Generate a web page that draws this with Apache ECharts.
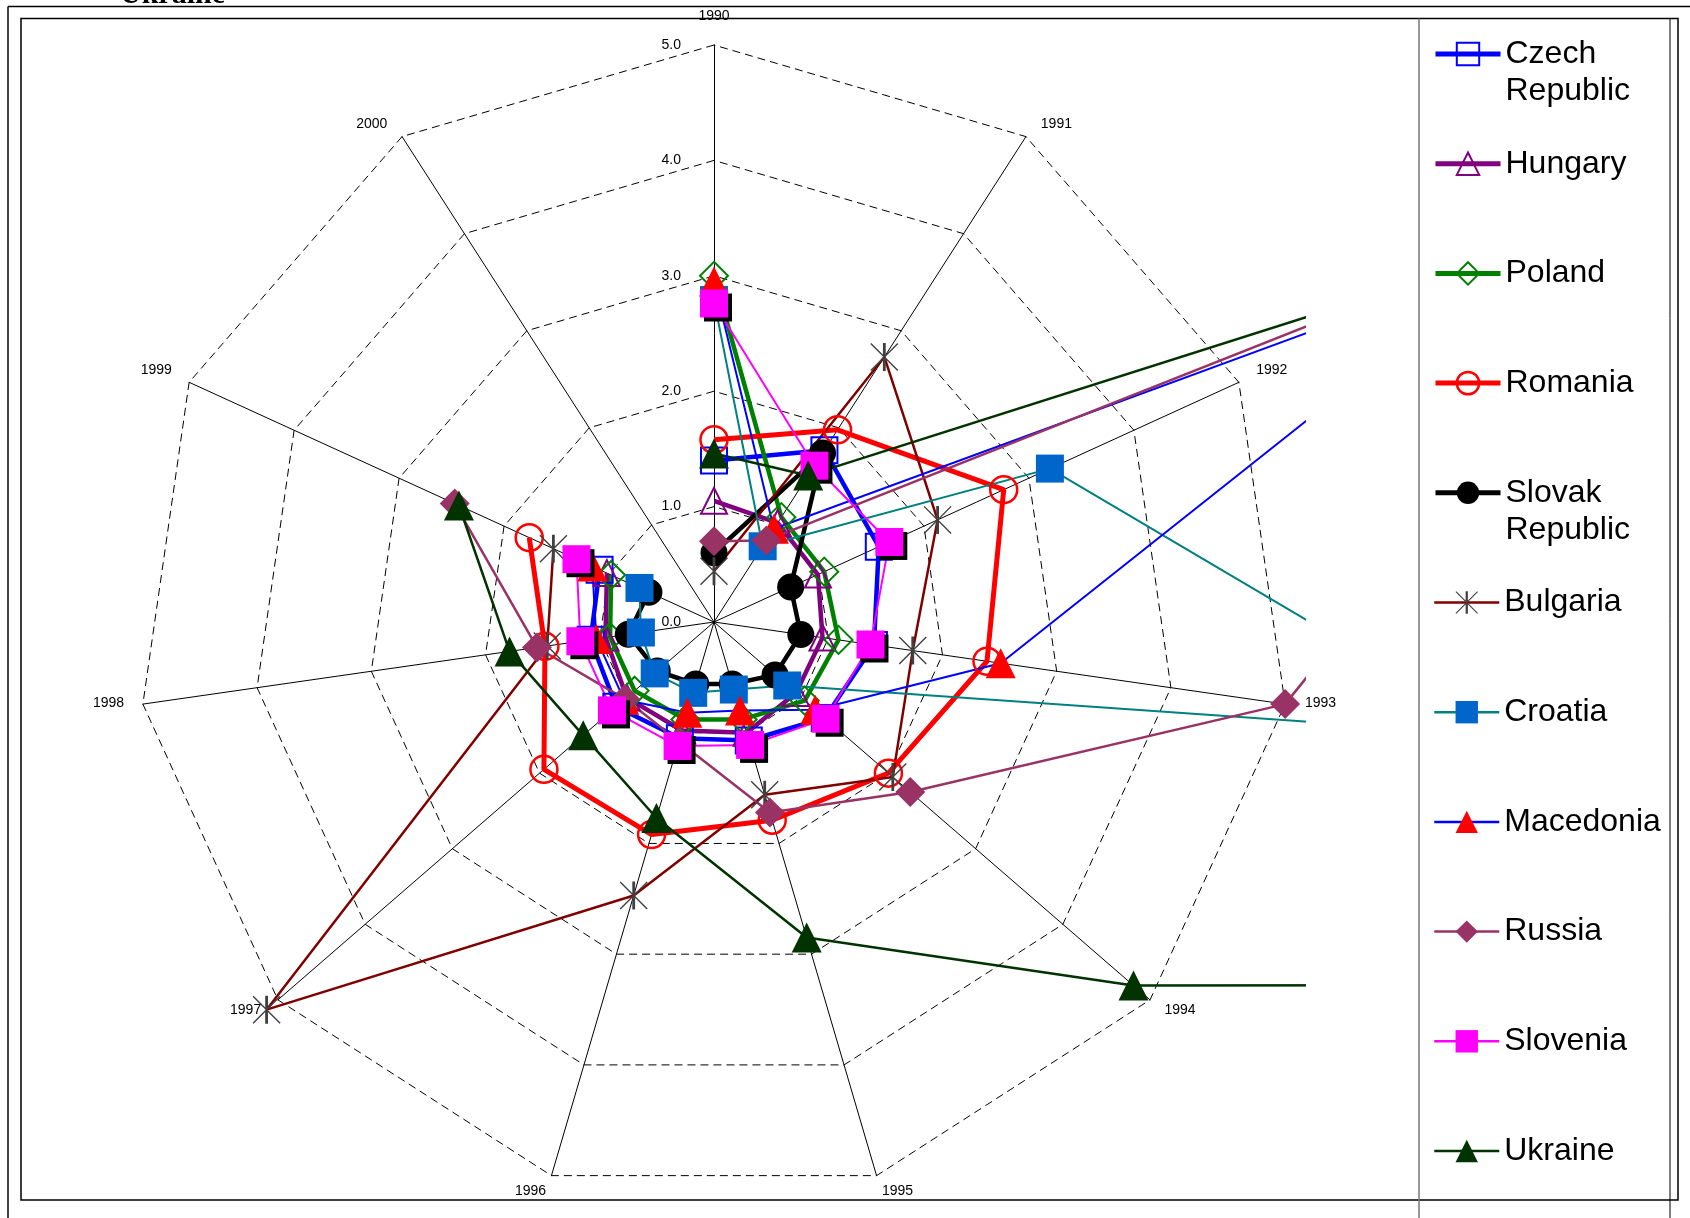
<!DOCTYPE html>
<html><head><meta charset="utf-8">
<script src="https://cdn.jsdelivr.net/npm/echarts@6/dist/echarts.min.js"></script>
<style>html,body{margin:0;padding:0;background:#fff;}#c{width:1690px;height:1218px;}</style>
</head><body><div id="c"></div>
<script>
// ---- data ----
const years = ['1990','1991','1992','1993','1994','1995','1996','1997','1998','1999','2000'];
const seriesNames = ['Czech Republic','Hungary','Poland','Romania','Slovak Republic','Bulgaria','Croatia','Macedonia','Russia','Slovenia','Ukraine'];
const czech     = [1.40, 1.77, 1.57, 1.40, 1.27, 1.07, 1.05, 1.12, 1.08, 1.09, null];
const hungary   = [1.05, 1.02, 0.99, 0.95, 0.94, 1.00, 0.98, 1.00, 0.95, 1.02, null];
const poland    = [3.00, 1.08, 1.05, 1.09, 1.04, 0.88, 0.88, 0.91, 0.91, 0.98, null];
const romania   = [1.58, 1.98, 2.76, 2.39, 2.00, 1.79, 1.92, 1.95, 1.48, 1.76, null];
const slovak    = [0.60, 1.74, 0.73, 0.76, 0.70, 0.56, 0.56, 0.65, 0.75, 0.62, null];
const bulgaria  = [0.44, 2.73, 2.13, 1.74, 2.05, 1.56, 2.47, 5.13, 1.46, 1.53, null];
const croatia   = [2.79, 0.78, 3.20, 6.90, 0.84, 0.61, 0.64, 0.68, 0.64, 0.71, null];
const macedonia = [2.95, 0.96, 7.60, 2.51, 1.16, 0.80, 0.82, 1.03, 1.03, 1.16, null];
const russia    = [0.70, 0.84, 9.60, 5.00, 2.25, 1.72, 1.08, 1.02, 1.55, 2.47, null];
const slovenia  = [2.76, 1.61, 1.67, 1.37, 1.28, 1.11, 1.12, 1.17, 1.17, 1.31, null];
const ukraine   = [1.46, 1.51, 8.00, 22.0, 4.81, 2.85, 1.77, 1.50, 1.79, 2.43, null];
const seriesValues = [czech, hungary, poland, romania, slovak, bulgaria, croatia, macedonia, russia, slovenia, ukraine];
const axisMax = 5;

// ---- styles ----
const STAR = 'path://M45 0L55 0L55 100L45 100Z M3.5 0L100 96.5L96.5 100L0 3.5Z M96.5 0L100 3.5L3.5 100L0 96.5Z';
const styles = [
  {line:'#0000FF', w:4.5, lw:5,   symbol:'rect',     size:26, fill:'transparent', border:'#0000FF', bw:2},
  {line:'#800080', w:4.5, lw:5,   symbol:'triangle', size:26, fill:'transparent', border:'#800080', bw:2},
  {line:'#008000', w:4.5, lw:5,   symbol:'diamond',  size:28, fill:'transparent', border:'#008000', bw:2},
  {line:'#FF0000', w:5,   lw:5,   symbol:'circle',   size:27, fill:'transparent', border:'#FF0000', bw:2.5},
  {line:'#000000', w:4.5, lw:5,   symbol:'circle',   size:27, fill:'#000000'},
  {line:'#800000', w:2.5, lw:2.5, symbol:STAR,       size:28, fill:'#404040'},
  {line:'#008080', w:2,   lw:2.5, symbol:'rect',     size:28, fill:'#0066CC'},
  {line:'#0000FF', w:2,   lw:2.5, symbol:'triangle', size:30, fill:'#FF0000'},
  {line:'#993366', w:2.5, lw:2.5, symbol:'diamond',  size:30, fill:'#993366'},
  {line:'#FF00FF', w:2,   lw:2.5, symbol:'rect',     size:28, fill:'#FF00FF', shadow:true},
  {line:'#003300', w:2.5, lw:2.5, symbol:'triangle', size:30, fill:'#003300'}
];
// small per-axis nudges of the year labels (padding: top, right, bottom, left)
const yearLabelPad = [[0,0,3,0],[6.6,0,0,4.6],[0,0,9.4,0],[0,0,8.2,1],[0,0,4.8,0],[0,0,5.6,0],
                      [0,0,5.6,0],[0,2.4,4.8,0],[0,0,8.2,0],[0,0,9.4,0],[6.6,4.5,0,0]];

const CX = 714, CY = 622, R = 577;
const FONT = 'Liberation Sans';
// the polar system for the lines is made larger (same scale) so that values above 5 are not clipped
const POLAR_FACTOR = 5;

// radar lays indicators counter-clockwise; the reference runs clockwise
const order = [0].concat(years.map((_, i) => i).slice(1).reverse());
const gridIndicators = order.map((i, k) => {
  const o = {name: years[i], min: 0, max: axisMax};
  if (k === 0) o.axisLabel = {show: true, margin: 33, color: '#000', fontSize: 14, fontFamily: FONT,
                              formatter: v => Number(v).toFixed(1)};
  return o;
});
const nameIndicators = order.map(i => ({name: years[i], min: 0, max: axisMax}));
const nameRich = {};
years.forEach((y, i) => { nameRich['y' + i] = {padding: yearLabelPad[i], color: '#000', fontSize: 14, fontFamily: FONT}; });

const series = seriesNames.map((name, k) => {
  const s = styles[k];
  const itemStyle = {color: s.fill, borderColor: s.border || s.fill, borderWidth: s.bw || 0};
  if (s.shadow) Object.assign(itemStyle, {shadowColor: '#000', shadowOffsetX: 4, shadowOffsetY: 4, shadowBlur: 0});
  return {
    type: 'line', name, coordinateSystem: 'polar', polarIndex: 0,
    data: seriesValues[k], connectNulls: false, clip: false,
    symbol: s.symbol, symbolSize: s.size, showSymbol: true, showAllSymbol: true,
    lineStyle: {color: s.line, width: s.w},
    itemStyle, emphasis: {disabled: true}, z: 2
  };
});

const ROW0 = 54, ROWSTEP = 109.7, LH = 37;
const legends = seriesNames.map((name, k) => {
  const twoLine = name.indexOf(' ') >= 0;
  return {
    data: [name], orient: 'vertical', left: 1433,
    top: ROW0 + k * ROWSTEP - (twoLine ? 1.5 * LH : 0.5 * LH), padding: 0,
    itemWidth: 65, itemHeight: 28, selectedMode: false, z: 15,
    formatter: n => (n.indexOf(' ') >= 0 ? '\n' + n.replace(' ', '\n') : n),
    textStyle: {fontSize: 32, fontFamily: FONT, color: '#000', lineHeight: LH},
    lineStyle: {width: styles[k].lw},
    itemStyle: {shadowColor: 'rgba(0,0,0,0)', shadowOffsetX: 0, shadowOffsetY: 0, shadowBlur: 0,
                borderWidth: styles[k].bw || 0}
  };
});

const line = (x1, y1, x2, y2, color, w) => ({type: 'line', z: 11, silent: true,
  shape: {x1, y1, x2, y2}, style: {stroke: color, lineWidth: w}});

const option = {
  animation: false,
  backgroundColor: '#fff',
  radar: [{
    z: 0, center: [CX, CY], radius: R, startAngle: 90, splitNumber: 5, shape: 'polygon',
    indicator: gridIndicators,
    axisName: {show: false},
    axisLine: {lineStyle: {color: '#000', width: 1}},
    splitLine: {lineStyle: {color: '#000', width: 1, type: [8, 5]}},
    splitArea: {show: false}, axisTick: {show: false}, axisLabel: {show: false}
  }, {
    z: 12, center: [CX, CY], radius: R, startAngle: 90, splitNumber: 5, shape: 'polygon',
    indicator: nameIndicators, axisNameGap: 19,
    axisName: {show: true, color: '#000', fontSize: 14, fontFamily: FONT, rich: nameRich,
               formatter: name => '{y' + years.indexOf(name) + '|' + name + '}'},
    axisLine: {show: false}, splitLine: {show: false}, splitArea: {show: false},
    axisTick: {show: false}, axisLabel: {show: false}
  }],
  polar: {center: [CX, CY], radius: R * POLAR_FACTOR},
  angleAxis: {type: 'category', data: years, startAngle: 90, clockwise: true, boundaryGap: false,
    axisLine: {show: false}, axisTick: {show: false}, axisLabel: {show: false}, splitLine: {show: false}},
  radiusAxis: {min: 0, max: axisMax * POLAR_FACTOR, axisLine: {show: false}, axisTick: {show: false},
    axisLabel: {show: false}, splitLine: {show: false}},
  legend: legends,
  series,
  graphic: [
    {type: 'rect', z: 10, silent: true, shape: {x: 1306, y: 0, width: 400, height: 1218}, style: {fill: '#fff'}},
    line(8, 6.5, 1690, 6.5, '#000', 1.5),
    line(8, 6.5, 8, 1218, '#000', 1.5),
    {type: 'rect', z: 11, silent: true, shape: {x: 21, y: 18.5, width: 1657, height: 1181.5},
      style: {fill: 'none', stroke: '#000', lineWidth: 1.5}},
    line(1419, 18.5, 1419, 1218, '#777', 1.5),
    line(1670, 18.5, 1670, 1218, '#000', 1),
    {type: 'text', z: 11, silent: true, x: 120, y: -5,
      style: {text: 'Ukraine', font: 'bold 30px "Liberation Serif"', fill: '#000', verticalAlign: 'middle'}}
  ]
};
const chart = echarts.init(document.getElementById('c'), null, {renderer: 'canvas'});
chart.setOption(option);
</script></body></html>
